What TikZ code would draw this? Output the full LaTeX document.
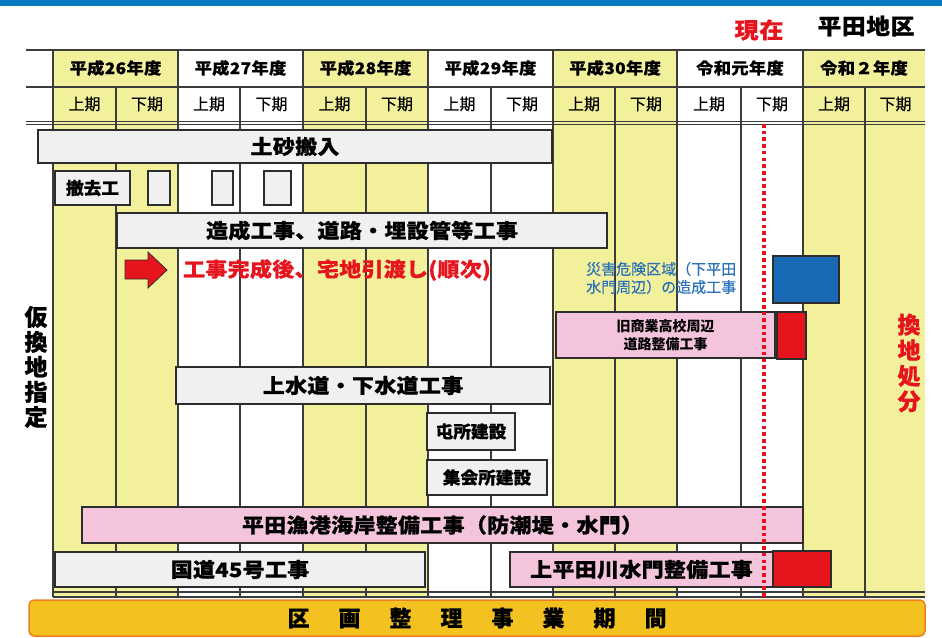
\documentclass[tikz,border=0pt]{standalone}
\usepackage{fontspec}
\setmainfont{Noto Sans CJK JP}
\definecolor{topblue}{RGB}{12,122,194}
\definecolor{colyel}{RGB}{243,240,155}
\definecolor{linec}{RGB}{45,45,45}
\definecolor{gridc}{RGB}{60,60,60}
\definecolor{boxgray}{RGB}{240,240,240}
\definecolor{boxpink}{RGB}{243,196,220}
\definecolor{redc}{RGB}{230,20,28}
\definecolor{bluebox}{RGB}{25,105,180}
\definecolor{bluetxt}{RGB}{42,115,184}
\definecolor{barfill}{RGB}{243,194,33}
\definecolor{barline}{RGB}{240,126,30}
\tikzset{
  gbox/.style={draw=linec, line width=1.5pt, fill=boxgray, inner sep=0pt, text=black},
  pbox/.style={gbox, fill=boxpink},
  rbox/.style={draw=linec, line width=1.5pt, fill=redc, inner sep=0pt},
  bbox/.style={draw=linec, line width=1.5pt, fill=bluebox, inner sep=0pt},
  bigtxt/.style={font=\fontsize{20}{22}\selectfont\bfseries\addfontfeatures{FakeStretch=1.1,FakeBold=0.6,LetterSpace=1.5}},
  midtxt/.style={font=\fontsize{17}{20}\selectfont\bfseries\addfontfeatures{FakeStretch=1.04,FakeBold=0.6}},
  yeartxt/.style={font=\fontsize{16}{18}\selectfont\bfseries\addfontfeatures{FakeStretch=1.08,FakeBold=0.5,LetterSpace=2}, inner sep=0pt},
  halftxt/.style={font=\fontsize{16}{18}\selectfont\addfontfeatures{FakeBold=0.4}, inner sep=0pt},
  gridline/.style={draw=gridc, line width=1.3pt},
}
\begin{document}
\begin{tikzpicture}[x=1pt,y=-1pt]
\useasboundingbox (0,0) rectangle (942,637);
\fill[topblue] (0,0) rectangle (942,6);

% yellow columns
\foreach \a/\b in {53/178,303/428,553/677,803/925}
  \fill[colyel] (\a,50) rectangle (\b,597);

% horizontal grid lines
\foreach \yy in {50,87,121.5,124.5}
  \draw[gridline] (26,\yy) -- (925,\yy);
\foreach \yy in {592,597}
  \draw[gridline] (53,\yy) -- (925,\yy);
% vertical grid lines
\foreach \xx in {53,178,303,428,553,677,803}
  \draw[gridline] (\xx,50) -- (\xx,597);
\foreach \xx in {116,240,366,491,615,741,865}
  \draw[gridline] (\xx,87) -- (\xx,597);

% header labels
\node[yeartxt] (y26) at (115.5,68) {平成26年度};
\node[yeartxt] (y27) at (240.5,68) {平成27年度};
\node[yeartxt] (y28) at (365.5,68) {平成28年度};
\node[yeartxt] (y29) at (490.5,68) {平成29年度};
\node[yeartxt] (y30) at (615,68) {平成30年度};
\node[yeartxt] (r1) at (740,68) {令和元年度};
\node[yeartxt] (r2) at (864,68) {令和２年度};
\foreach \cx/\lab [count=\i] in {84.5/上期,147/下期,209/上期,271.5/下期,334.5/上期,397/下期,459.5/上期,522/下期,584/上期,646/下期,709/上期,772/下期,834/上期,895.5/下期}
  \node[halftxt] (h\i) at (\cx,104) {\lab};

\node[font=\fontsize{22}{24}\selectfont\bfseries\addfontfeatures{FakeStretch=1.1,FakeBold=0.6,LetterSpace=3}, text=redc, inner sep=0pt] (genzai) at (759,30) {現在};
\node[font=\fontsize{22}{24}\selectfont\bfseries\addfontfeatures{FakeStretch=1.08,FakeBold=0.8,LetterSpace=3}, inner sep=0pt] (chiku) at (866,26) {平田地区};

% side labels
\node[font=\fontsize{23}{25}\selectfont\bfseries\addfontfeatures{FakeBold=0.8}, align=center, inner sep=0pt] (karikan) at (36,367) {仮\\換\\地\\指\\定};
\node[font=\fontsize{23}{25.5}\selectfont\bfseries\addfontfeatures{FakeBold=0.5}, align=center, inner sep=0pt, text=redc] (kanchi) at (909,363) {換\\地\\処\\分};

% work boxes
\node[gbox, bigtxt, minimum width=514pt, minimum height=33pt] (dosha) at (295,146.5) {土砂搬入};
\node[gbox, midtxt, minimum width=75pt, minimum height=34pt] (tekkyo) at (92.5,188) {撤去工};
\node[gbox, minimum width=22pt, minimum height=34pt] (s1) at (159,188) {};
\node[gbox, minimum width=21pt, minimum height=34pt] (s2) at (222.5,188) {};
\node[gbox, minimum width=27pt, minimum height=34pt] (s3) at (277.5,188) {};
\node[gbox, bigtxt, minimum width=490pt, minimum height=35pt] (zosei) at (362,230.5) {造成工事、道路・埋設管等工事};

\fill[redc, draw=linec, line width=0.8pt] (125,260) -- (148,260) -- (148,252) -- (167,270) -- (148,288) -- (148,279) -- (125,279) -- cycle;
\node[bigtxt, text=redc, inner sep=0pt] (hikiwatashi) at (337,270) {工事完成後、宅地引渡し(順次)};

\node[font=\fontsize{15}{18}\selectfont\addfontfeatures{FakeBold=0.4}, text=bluetxt, align=left, anchor=west, inner sep=0pt] (saigai) at (586,278) {災害危険区域（下平田\\水門周辺）の造成工事};
\node[bbox, minimum width=66pt, minimum height=47pt] (bluerect) at (806,279.5) {};

\node[pbox, font=\fontsize{14}{18}\selectfont\bfseries, align=center, minimum width=219pt, minimum height=46pt] (kyu) at (665.5,335) {旧商業高校周辺\\道路整備工事};
\node[rbox, minimum width=29pt, minimum height=47pt] (red1) at (791.5,335.5) {};

\node[gbox, bigtxt, minimum width=374pt, minimum height=37pt] (josui) at (363,385.5) {上水道・下水道工事};
\node[gbox, midtxt, minimum width=88pt, minimum height=37pt] (tonsho) at (471,431.5) {屯所建設};
\node[gbox, midtxt, minimum width=120pt, minimum height=35pt] (shukai) at (487,477.5) {集会所建設};

\node[pbox, bigtxt, minimum width=721pt, minimum height=36pt] (gyoko) at (442.5,525) {平田漁港海岸整備工事（防潮堤・水門）};
\node[gbox, bigtxt, minimum width=370pt, minimum height=35pt] (kokudo) at (240,569.5) {国道45号工事};
\node[pbox, bigtxt, minimum width=263pt, minimum height=35pt] (kamihirata) at (641.5,569.5) {上平田川水門整備工事};
\node[rbox, minimum width=58pt, minimum height=36pt] (red2) at (802,569) {};

% present line
\draw[redc, line width=3.6pt, dash pattern=on 3.6pt off 3.1pt] (764,124) -- (764,604);

% bottom bar
\node[draw=barline, line width=1.5pt, fill=barfill, rounded corners=5pt, minimum width=896pt, minimum height=36pt, inner sep=0pt,
  font=\fontsize{22}{24}\selectfont\bfseries\addfontfeatures{FakeBold=0.6}] (kikan) at (477,618)
  {区\hspace{29pt}画\hspace{29pt}整\hspace{29pt}理\hspace{29pt}事\hspace{29pt}業\hspace{29pt}期\hspace{29pt}間};
\end{tikzpicture}
\end{document}
